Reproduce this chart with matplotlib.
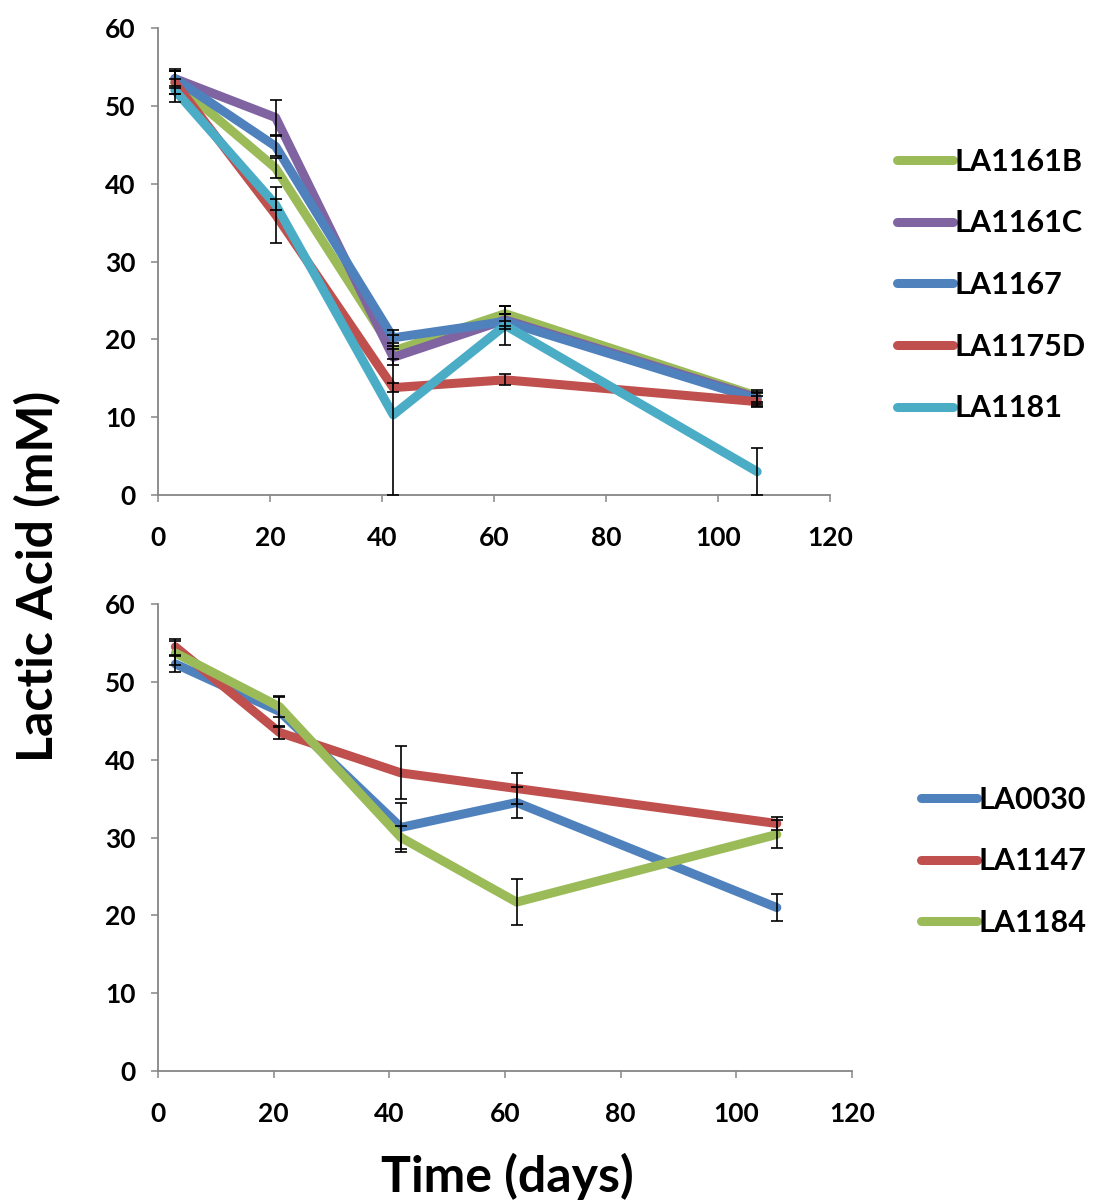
import numpy as np
import matplotlib.pyplot as plt
from matplotlib.lines import Line2D

plt.rcParams['font.family'] = ['Lato', 'DejaVu Sans']
plt.rcParams['font.weight'] = 'bold'

# sampling days
days = [3, 21, 42, 62, 107]

# top panel
top_names = ['LA1161B', 'LA1161C', 'LA1167', 'LA1175D', 'LA1181']
top_colors = ['#9BBB59', '#8064A2', '#4F81BD', '#C0504D', '#4BACC6']
top_vals = [
    [53.0, 42.0, 18.5, 23.3, 12.7],
    [53.5, 48.5, 17.7, 22.5, 12.5],
    [53.5, 44.8, 20.2, 22.3, 12.3],
    [53.0, 36.0, 13.8, 14.8, 12.0],
    [52.0, 37.3, 10.3, 21.8, 3.0],
]
top_err = [
    [1.5, 1.3, 1.0, 1.0, 0.8],
    [1.2, 2.3, 1.0, 0.8, 0.8],
    [1.0, 1.3, 1.0, 1.0, 0.8],
    [1.5, 3.6, 0.6, 0.7, 0.7],
    [1.5, 0.7, 10.3, 2.5, 3.0],
]

# bottom panel
bot_names = ['LA0030', 'LA1147', 'LA1184']
bot_colors = ['#4F81BD', '#C0504D', '#9BBB59']
bot_vals = [
    [52.3, 46.2, 31.3, 34.5, 21.0],
    [54.5, 43.5, 38.3, 36.3, 31.8],
    [53.7, 46.8, 30.0, 21.7, 30.4],
]
bot_err = [
    [1.0, 2.0, 3.2, 2.0, 1.7],
    [1.0, 0.8, 3.4, 2.0, 0.8],
    [1.5, 1.3, 1.5, 3.0, 1.8],
]

fig = plt.figure(figsize=(10.96, 12.03), dpi=100)
ax1 = fig.add_axes([0.1442, 0.5885, 0.6131, 0.3882])
ax2 = fig.add_axes([0.1442, 0.1097, 0.6332, 0.3882])


def draw(ax, names, colors, vals, errs, legend_xy):
    for name, c, v in zip(names, colors, vals):
        ax.plot(days, v, color=c, lw=6.5, solid_capstyle='round', label=name, zorder=2)
    for v, e in zip(vals, errs):
        ax.errorbar(days, v, yerr=e, fmt='none', ecolor='black', elinewidth=1.2,
                    capsize=4.5, capthick=1.2, zorder=3)
    ax.set_xlim(0, 120)
    ax.set_ylim(0, 60)
    ax.set_xticks(np.arange(0, 121, 20))
    ax.set_yticks(np.arange(0, 61, 10))
    for s in ['top', 'right']:
        ax.spines[s].set_visible(False)
    for s in ['left', 'bottom']:
        ax.spines[s].set_color('#868686')
        ax.spines[s].set_linewidth(1.3)
    ax.tick_params(colors='#868686', length=5, width=1.1, labelcolor='black',
                   labelsize=19, pad=11)
    ax.tick_params(axis='x', pad=17)
    for lab in ax.get_xticklabels() + ax.get_yticklabels():
        lab.set_fontweight('bold')
    handles = [Line2D([0], [0], color=c, lw=6.5, solid_capstyle='round') for c in colors]
    fig.legend(handles, names, loc='center left', bbox_to_anchor=legend_xy,
               frameon=False, handlelength=1.85, handletextpad=0.05,
               labelspacing=1.1, borderpad=0, borderaxespad=0,
               prop={'weight': 'bold', 'size': 22})


draw(ax1, top_names, top_colors, top_vals, top_err, (0.818, 0.763))
draw(ax2, bot_names, bot_colors, bot_vals, bot_err, (0.840, 0.284))

fig.text(0.034, 0.521, 'Lactic Acid (mM)', rotation=90, ha='center', va='center',
         fontsize=36, fontweight='bold')
fig.text(0.463, 0.022, 'Time (days)', ha='center', va='center',
         fontsize=36, fontweight='bold')

fig.savefig('out.png', dpi=100)
